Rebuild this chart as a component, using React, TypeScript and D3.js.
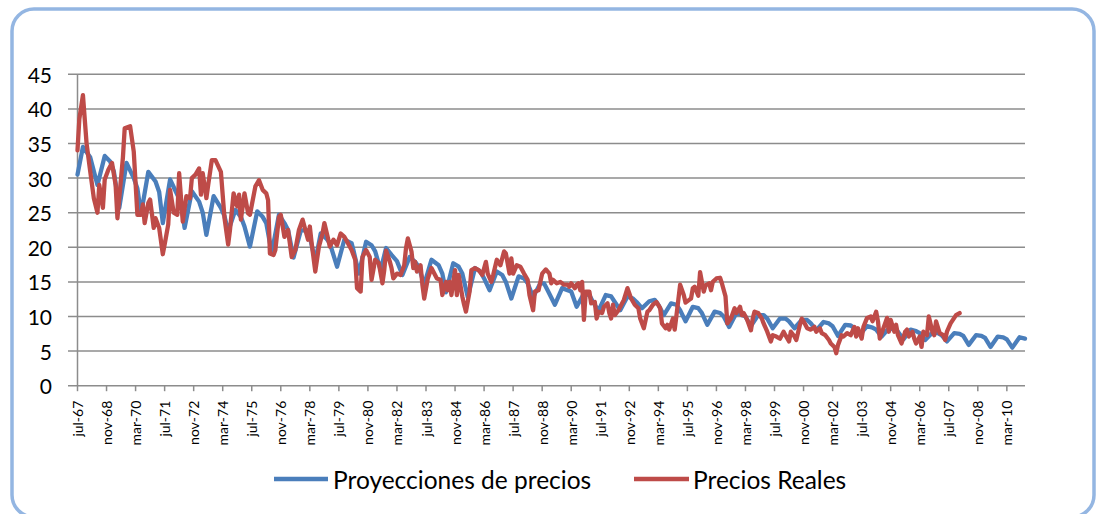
import React from "react";
import * as d3 from "d3";

// Monthly category axis: jul-67 (index 0) .. jan-11 (index 522)
const N_CATEGORIES = 523;
const TICK_EVERY = 16;
const tickLabels = [
  "jul-67", "nov-68", "mar-70", "jul-71", "nov-72", "mar-74", "jul-75", "nov-76", "mar-78",
  "jul-79", "nov-80", "mar-82", "jul-83", "nov-84", "mar-86", "jul-87", "nov-88", "mar-90",
  "jul-91", "nov-92", "mar-94", "jul-95", "nov-96", "mar-98", "jul-99", "nov-00", "mar-02",
  "jul-03", "nov-04", "mar-06", "jul-07", "nov-08", "mar-10",
];
const yTicks = [0, 5, 10, 15, 20, 25, 30, 35, 40, 45];
const seriesNames = ["Proyecciones de precios", "Precios Reales"];

// [months since jul-67, value]
const proyecciones: [number, number][] = [
  [0, 30.5], [3, 34.5], [7, 33.0], [11, 29.0], [15, 33.2], [18, 32.4], [20, 31.0], [23, 25.7],
  [27, 32.2], [31, 30.0], [33, 28.5], [35, 24.8], [39, 30.9], [43, 29.5], [45, 28.0], [47, 23.5],
  [51, 29.8], [55, 27.6], [57, 26.5], [59, 22.8], [63, 28.1], [67, 26.6], [69, 25.0], [71, 21.8],
  [75, 27.4], [79, 25.7], [81, 24.5], [83, 22.3], [87, 25.4], [90, 24.4], [92, 23.0], [95, 20.1],
  [99, 25.2], [102, 24.4], [104, 23.5], [107, 19.2], [111, 24.7], [114, 23.5], [116, 22.5], [119, 18.5],
  [123, 22.4], [126, 22.5], [128, 21.5], [131, 18.0], [134, 22.0], [137, 21.3], [139, 20.6], [143, 17.2],
  [147, 21.1], [151, 20.6], [152, 19.6], [155, 16.2], [159, 20.8], [162, 20.3], [164, 19.4], [167, 16.7],
  [170, 19.9], [173, 18.9], [176, 18.0], [179, 16.0], [183, 18.6], [186, 17.9], [188, 17.2], [191, 14.6],
  [195, 18.2], [199, 17.4], [201, 16.2], [203, 13.5], [207, 17.7], [210, 17.2], [212, 16.2], [215, 12.8],
  [219, 17.0], [222, 16.5], [224, 15.5], [227, 13.8], [231, 16.5], [234, 16.0], [236, 15.0], [239, 12.6],
  [243, 15.8], [246, 15.5], [248, 14.8], [251, 12.8], [255, 14.8], [257, 14.8], [259, 13.8], [263, 11.7],
  [267, 14.1], [270, 13.8], [272, 13.6], [275, 11.4], [279, 13.3], [282, 13.1], [284, 12.1], [287, 10.8],
  [291, 13.1], [294, 12.9], [296, 12.1], [299, 10.9], [303, 12.9], [306, 12.6], [308, 12.1], [311, 11.2],
  [315, 12.2], [318, 12.4], [320, 11.7], [323, 10.2], [327, 11.9], [330, 11.7], [332, 10.9], [335, 9.3],
  [339, 11.4], [342, 11.2], [344, 10.5], [347, 8.8], [351, 10.7], [354, 10.5], [356, 10.0], [359, 8.5],
  [363, 10.5], [366, 10.2], [368, 10.0], [371, 8.6], [375, 10.2], [378, 10.2], [380, 9.7], [383, 8.3],
  [387, 9.7], [390, 9.7], [392, 9.3], [395, 8.3], [399, 9.5], [402, 9.5], [404, 9.0], [407, 8.0],
  [411, 9.2], [414, 9.0], [416, 8.6], [419, 7.2], [423, 8.8], [426, 8.7], [428, 8.3], [431, 7.4],
  [435, 8.6], [438, 8.4], [440, 8.1], [443, 7.1], [447, 8.3], [450, 8.1], [452, 7.8], [455, 6.7],
  [459, 8.1], [462, 7.9], [464, 7.6], [467, 6.6], [471, 7.7], [474, 7.6], [476, 7.3], [479, 6.4],
  [483, 7.6], [486, 7.5], [488, 7.2], [491, 5.9], [495, 7.3], [498, 7.2], [500, 6.9], [503, 5.6],
  [507, 7.1], [510, 7.0], [512, 6.7], [515, 5.5], [519, 7.0], [522, 6.8],
];

const preciosReales: [number, number][] = [
  [0, 34.0], [1, 38.5], [3, 42.0], [5, 35.0], [7, 31.0], [9, 27.1], [11, 25.0], [12, 29.0],
  [14, 25.7], [15, 29.8], [17, 31.2], [19, 32.2], [21, 29.0], [22, 24.2], [25, 32.9], [26, 37.2],
  [29, 37.5], [31, 33.8], [33, 24.7], [35, 24.7], [36, 26.2], [37, 23.5], [39, 26.4], [40, 26.9],
  [42, 22.8], [43, 24.2], [45, 22.8], [47, 19.0], [48, 20.4], [50, 23.3], [51, 28.3], [53, 25.0],
  [55, 24.7], [56, 30.7], [58, 23.7], [60, 27.4], [62, 27.1], [63, 30.0], [65, 30.5], [67, 31.4],
  [68, 27.6], [69, 30.7], [71, 27.1], [72, 29.0], [74, 32.6], [76, 32.6], [79, 30.9], [81, 24.2],
  [83, 20.4], [84, 22.5], [86, 27.8], [88, 25.9], [89, 27.6], [90, 24.0], [92, 27.8], [94, 24.9],
  [95, 24.7], [98, 28.8], [100, 29.7], [102, 28.3], [104, 27.8], [105, 26.8], [106, 19.1], [108, 18.9],
  [109, 19.6], [111, 24.4], [112, 24.7], [114, 21.5], [116, 22.5], [118, 18.6], [120, 19.6], [122, 22.5],
  [124, 24.0], [127, 21.1], [128, 23.0], [129, 20.6], [131, 16.5], [133, 20.1], [135, 22.0], [136, 23.5],
  [138, 21.3], [139, 20.1], [141, 21.1], [143, 20.3], [145, 22.0], [147, 21.5], [149, 20.6], [151, 19.6],
  [153, 18.2], [154, 14.1], [156, 13.6], [157, 18.6], [159, 19.6], [161, 18.6], [162, 15.3], [164, 18.2],
  [166, 17.7], [168, 14.8], [169, 16.7], [170, 19.5], [172, 18.0], [173, 17.0], [174, 15.5], [176, 16.2],
  [178, 16.0], [180, 17.4], [181, 19.9], [182, 21.3], [184, 19.4], [185, 17.0], [186, 17.9], [187, 16.5],
  [189, 17.4], [190, 14.6], [191, 12.6], [193, 15.5], [195, 17.0], [196, 16.5], [198, 15.5], [200, 15.3],
  [201, 13.1], [203, 15.0], [204, 13.8], [205, 15.0], [206, 13.1], [208, 16.7], [209, 13.1], [210, 16.0],
  [212, 12.9], [213, 11.7], [214, 10.7], [216, 13.6], [217, 16.7], [219, 17.0], [221, 16.7], [223, 16.0],
  [225, 17.9], [226, 16.2], [228, 15.0], [229, 16.0], [231, 18.2], [233, 17.4], [235, 19.4], [236, 19.1],
  [238, 16.2], [239, 18.4], [240, 16.2], [242, 17.4], [244, 17.2], [246, 16.2], [248, 15.3], [249, 13.1],
  [251, 10.9], [252, 13.6], [254, 13.8], [256, 16.2], [258, 16.8], [260, 16.2], [261, 14.8], [262, 15.3],
  [264, 14.8], [266, 15.0], [268, 14.6], [270, 14.6], [271, 14.3], [272, 14.8], [274, 14.1], [275, 14.6],
  [276, 14.8], [277, 13.8], [278, 15.0], [279, 9.5], [280, 13.6], [282, 13.6], [283, 11.9], [285, 12.1],
  [286, 9.7], [287, 10.7], [289, 10.5], [290, 11.4], [292, 11.9], [293, 10.5], [294, 9.7], [295, 11.7],
  [296, 10.2], [298, 10.9], [301, 12.4], [303, 14.1], [305, 12.6], [307, 11.7], [309, 11.2], [310, 9.7],
  [312, 8.3], [314, 10.7], [315, 10.9], [317, 11.7], [319, 12.1], [321, 11.2], [322, 9.0], [324, 8.3],
  [325, 8.8], [326, 8.1], [328, 9.7], [329, 8.1], [330, 10.2], [331, 12.4], [332, 14.6], [334, 13.1],
  [335, 12.0], [337, 12.4], [338, 12.6], [339, 14.1], [340, 14.3], [342, 13.0], [343, 16.4], [345, 13.6],
  [346, 14.5], [348, 14.8], [349, 13.8], [350, 15.0], [352, 15.5], [354, 15.6], [355, 14.8], [357, 12.9],
  [358, 9.0], [360, 9.7], [362, 11.2], [363, 10.5], [365, 11.4], [366, 10.2], [367, 10.5], [369, 9.5],
  [371, 8.0], [372, 9.7], [373, 10.7], [375, 10.5], [377, 9.7], [378, 9.0], [380, 7.8], [382, 6.4],
  [383, 7.3], [385, 7.1], [387, 6.8], [389, 7.8], [390, 7.3], [392, 6.4], [393, 7.8], [395, 7.1],
  [396, 6.6], [398, 8.8], [399, 9.7], [400, 9.3], [402, 8.3], [404, 8.1], [406, 8.5], [407, 7.8],
  [409, 8.3], [410, 7.6], [412, 7.3], [414, 6.6], [415, 6.1], [417, 5.6], [418, 4.7], [419, 5.9],
  [421, 7.3], [422, 7.1], [424, 7.6], [426, 7.3], [428, 8.5], [429, 7.1], [430, 8.3], [432, 6.8],
  [433, 8.5], [435, 9.8], [437, 10.0], [438, 9.3], [440, 10.7], [441, 9.3], [442, 6.8], [444, 8.3],
  [446, 9.8], [447, 7.8], [448, 9.5], [450, 7.8], [451, 8.8], [452, 7.3], [454, 6.1], [456, 7.8],
  [457, 8.1], [458, 7.1], [460, 7.8], [461, 6.8], [462, 6.1], [464, 7.1], [465, 5.6], [466, 7.8],
  [468, 7.3], [469, 10.0], [471, 7.8], [472, 7.3], [473, 9.3], [475, 7.6], [477, 7.3], [478, 6.6],
  [479, 7.8], [481, 9.0], [483, 9.8], [484, 10.2], [486, 10.5],
];

const BLUE = "#4a7ebb";
const RED = "#be4b48";
const GRID = "#8c8c8c";
const FONT = "Lato, 'Open Sans', sans-serif";

export default function App() {
  const W = 1098;
  const H = 514;
  const left = 77.5;
  const right = 1025;
  const top = 74.3;
  const bottom = 385.7;

  const x = d3.scaleLinear().domain([0, N_CATEGORIES - 1]).range([left, right]);
  const y = d3.scaleLinear().domain([0, 45]).range([bottom, top]);
  const line = d3
    .line<[number, number]>()
    .x((d) => x(d[0]))
    .y((d) => y(d[1]));

  return (
    <svg
      width={W}
      height={H}
      style={{ position: "absolute", left: 0, top: 0, background: "#fff" }}
      fontFamily={FONT}
    >
      <rect x={12} y={9} width={1082} height={508} rx={22} ry={22} fill="#fff" stroke="#94b6e2" strokeWidth={3.5} />
      {yTicks.map((v) => (
        <g key={v}>
          <line x1={68} x2={right} y1={y(v)} y2={y(v)} stroke={GRID} strokeWidth={1.5} />
          <text x={52} y={y(v)} textAnchor="end" dominantBaseline="central" fontSize={21} fill="#000">
            {v}
          </text>
        </g>
      ))}
      <line x1={left} x2={left} y1={top} y2={bottom} stroke={GRID} strokeWidth={1.5} />
      {tickLabels.map((lab, i) => {
        const xi = x(i * TICK_EVERY);
        return (
          <g key={lab}>
            <line x1={xi} x2={xi} y1={bottom} y2={bottom + 5.5} stroke={GRID} strokeWidth={1.5} />
            <text
              transform={`translate(${xi},${bottom + 15}) rotate(-90)`}
              textAnchor="end"
              dominantBaseline="central"
              fontSize={14}
              fill="#000"
            >
              {lab}
            </text>
          </g>
        );
      })}
      <path d={line(proyecciones) || ""} fill="none" stroke={BLUE} strokeWidth={4.3} strokeLinejoin="round" strokeLinecap="round" />
      <path d={line(preciosReales) || ""} fill="none" stroke={RED} strokeWidth={4.3} strokeLinejoin="round" strokeLinecap="round" />
      {/* legend */}
      <line x1={274} x2={328} y1={479} y2={479} stroke={BLUE} strokeWidth={4.3} />
      <text x={333} y={479} dominantBaseline="central" fontSize={24.5} fill="#000">
        {seriesNames[0]}
      </text>
      <line x1={634} x2={689} y1={479} y2={479} stroke={RED} strokeWidth={4.3} />
      <text x={693} y={479} dominantBaseline="central" fontSize={24.5} fill="#000">
        {seriesNames[1]}
      </text>
    </svg>
  );
}
